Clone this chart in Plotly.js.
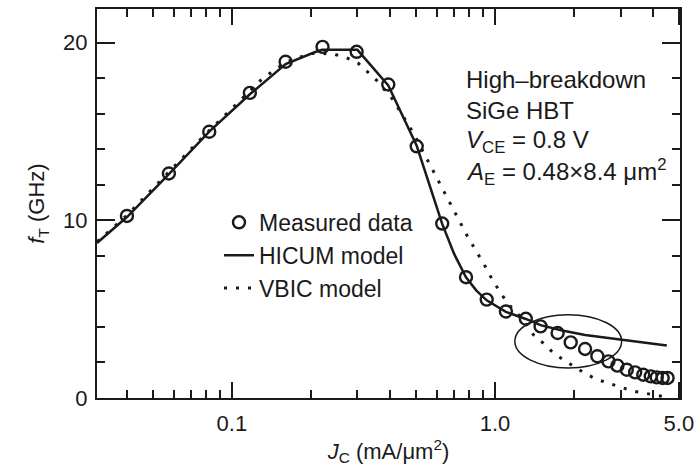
<!DOCTYPE html>
<html>
<head>
<meta charset="utf-8">
<script src="https://cdn.plot.ly/plotly-3.0.1.min.js"></script>
<style>html,body{margin:0;padding:0;background:#fff;}#chart{width:697px;height:468px;}</style>
</head>
<body>
<div id="chart"></div>
<script>
// Measured data (JC in mA/um^2, fT in GHz)
const measuredJc = [0.0399, 0.0576, 0.082, 0.117, 0.160, 0.221, 0.298, 0.393, 0.504, 0.630, 0.776, 0.930, 1.10, 1.31, 1.49, 1.73, 1.94, 2.20, 2.45, 2.70, 2.92, 3.17, 3.41, 3.66, 3.91, 4.12, 4.34, 4.53];
const measuredFt = [10.25, 12.64, 14.99, 17.18, 18.93, 19.77, 19.49, 17.65, 14.17, 9.82, 6.80, 5.54, 4.87, 4.46, 4.03, 3.66, 3.13, 2.76, 2.35, 2.06, 1.82, 1.59, 1.44, 1.31, 1.22, 1.16, 1.13, 1.13];

// HICUM model
const hicumJc = [0.0307, 0.04, 0.0576, 0.082, 0.117, 0.16, 0.205, 0.22, 0.30, 0.393, 0.504, 0.63, 0.70, 0.776, 0.85, 0.93, 1.10, 1.31, 1.49, 1.8, 2.2, 3.0, 3.7, 4.5];
const hicumFt = [8.73, 10.2, 12.6, 15.0, 17.1, 18.8, 19.45, 19.6, 19.6, 17.6, 14.2, 9.8, 8.1, 6.8, 6.05, 5.5, 4.85, 4.45, 4.1, 3.8, 3.55, 3.3, 3.12, 2.95];

// VBIC model
const vbicJc = [0.0307, 0.04, 0.06, 0.08, 0.1, 0.13, 0.16, 0.2, 0.242, 0.273, 0.301, 0.326, 0.355, 0.409, 0.488, 0.574, 0.675, 0.789, 0.903, 0.972, 1.06, 1.157, 1.281, 1.398, 1.55, 1.666, 1.818, 2.0, 2.2, 2.436, 2.7, 2.99, 3.4, 3.77, 4.24, 4.5];
const vbicFt = [8.8, 10.3, 13.0, 14.9, 16.3, 17.95, 18.9, 19.4, 19.38, 19.15, 18.87, 18.4, 17.88, 16.8, 14.95, 12.96, 10.95, 9.05, 7.6, 6.72, 5.82, 5.07, 4.41, 3.57, 3.0, 2.54, 2.16, 1.75, 1.38, 1.05, 0.82, 0.62, 0.37, 0.25, 0.1, 0.05];

// Ticks
const xTickVals = [0.1, 1, 5];
const xTickText = ['0.1', '1.0', '5.0'];
const xMinorVals = [0.04, 0.05, 0.06, 0.07, 0.08, 0.09, 0.2, 0.3, 0.4, 0.5, 0.6, 0.7, 0.8, 0.9, 2, 3, 4];
const yTickVals = [0, 10, 20];
const yMinorVals = [2, 4, 6, 8, 12, 14, 16, 18];

// Ellipse highlight region (data coords)
const ellipseJc = [1.19, 3.03];
const ellipseFt = [1.69, 4.69];

const infoLines = ['High\u2013breakdown', 'SiGe HBT', '<i>V</i><sub>CE</sub> = 0.8 V', '<i>A</i><sub>E</sub> = 0.48\u00d78.4 \u03bcm<sup>2</sup>'];

const FONT = 'Liberation Sans, Arial, Helvetica, sans-serif';
const INK = '#1a1a1a';

const traces = [
  {x: hicumJc, y: hicumFt, name: 'HICUM model', mode: 'lines', legendrank: 2,
   line: {color: INK, width: 2.5}},
  {x: vbicJc, y: vbicFt, name: 'VBIC model', mode: 'lines', legendrank: 3,
   line: {color: INK, width: 3, dash: '3px,9px'}},
  {x: measuredJc, y: measuredFt, name: 'Measured data', mode: 'markers', legendrank: 1,
   marker: {symbol: 'circle-open', size: 12, color: INK, line: {width: 2.4, color: INK}}}
];

const axisCommon = {
  showline: true, linecolor: INK, linewidth: 2, mirror: 'ticks',
  ticks: 'inside', tickcolor: INK, tickwidth: 2,
  showgrid: false, zeroline: false,
  tickfont: {family: FONT, size: 22, color: INK}
};

const px = v => (v - 97) / 583;
const py = v => (398.3 - v) / 389.3;

const annotations = infoLines.map((t, i) => ({
  xref: 'paper', yref: 'paper', x: px(464), y: py([80, 111, 142, 172][i]),
  xanchor: 'left', yanchor: 'middle', text: t, showarrow: false,
  font: {family: FONT, size: 24, color: INK}
}));

const layout = {
  width: 697, height: 468,
  margin: {l: 97, r: 17, t: 9, b: 70},
  paper_bgcolor: '#fff', plot_bgcolor: '#fff',
  font: {family: FONT, color: INK},
  showlegend: true,
  legend: {x: px(219), y: py(201), xanchor: 'left', yanchor: 'top',
           bgcolor: 'rgba(0,0,0,0)', font: {family: FONT, size: 23, color: INK},
           itemwidth: 30, tracegroupgap: 0},
  xaxis: Object.assign({}, axisCommon, {
    type: 'log', range: [Math.log10(0.0307), Math.log10(5.05)],
    tickmode: 'array', tickvals: xTickVals, ticktext: xTickText, ticklen: 16,
    ticklabelstandoff: 5,
    minor: {tickmode: 'array', tickvals: xMinorVals, ticks: 'inside', ticklen: 8, tickwidth: 2, tickcolor: INK, showgrid: false},
    title: {text: '<i>J</i><sub>C</sub> (mA/\u03bcm<sup>2</sup>)', font: {family: FONT, size: 22, color: INK}, standoff: 8}
  }),
  yaxis: Object.assign({}, axisCommon, {
    range: [0, 21.9],
    tickmode: 'array', tickvals: yTickVals, ticklen: 18,
    ticklabelstandoff: 3,
    minor: {tickmode: 'array', tickvals: yMinorVals, ticks: 'inside', ticklen: 8, tickwidth: 2, tickcolor: INK, showgrid: false},
    title: {text: '<i>f</i><sub>T</sub> (GHz)', font: {family: FONT, size: 22, color: INK}, standoff: 12}
  }),
  shapes: [{type: 'circle', xref: 'x', yref: 'y', x0: ellipseJc[0], x1: ellipseJc[1], y0: ellipseFt[0], y1: ellipseFt[1],
            line: {color: INK, width: 1.5}}],
  annotations: annotations
};

Plotly.newPlot('chart', traces, layout, {displayModeBar: false, staticPlot: true});
</script>
</body>
</html>
